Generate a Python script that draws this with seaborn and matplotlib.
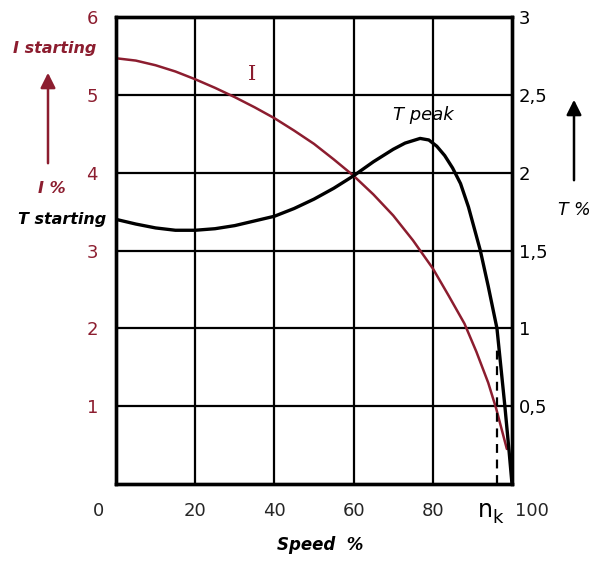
import matplotlib
matplotlib.use("Agg")
import matplotlib.pyplot as plt
import matplotlib.transforms as mtrans
import seaborn as sns
import pandas as pd

# ---- data ----
speed_I = [0, 5, 10, 15, 20, 25, 30, 35, 40, 45, 50, 55, 60, 65, 70, 75, 80, 84, 88, 91, 94, 96, 98.7]
current_I = [5.47, 5.44, 5.38, 5.30, 5.20, 5.09, 4.97, 4.84, 4.70, 4.54, 4.37, 4.17, 3.96, 3.72, 3.45,
             3.13, 2.77, 2.42, 2.06, 1.70, 1.30, 0.97, 0.45]

speed_T = [0, 5, 10, 15, 20, 25, 30, 35, 40, 45, 50, 55, 60, 65, 70, 73, 76.8, 79, 81, 83, 85, 87,
           89, 92, 94, 96.2, 98.2, 99.3, 100]
torque_T = [1.70, 1.67, 1.645, 1.63, 1.63, 1.64, 1.66, 1.69, 1.72, 1.77, 1.83, 1.90, 1.98, 2.07, 2.15,
            2.19, 2.22, 2.21, 2.17, 2.11, 2.03, 1.93, 1.78, 1.50, 1.27, 1.00, 0.50, 0.20, 0.0]

x_ticks = [0, 20, 40, 60, 80, 100]
x_ticklabels = ["0", "20", "40", "60", "80", "100"]
left_ticks = [1, 2, 3, 4, 5, 6]
left_ticklabels = ["1", "2", "3", "4", "5", "6"]
right_ticks = [0.5, 1.0, 1.5, 2.0, 2.5, 3.0]
right_ticklabels = ["0,5", "1", "1,5", "2", "2,5", "3"]
n_k = 96.2

RED = "#8c1d2f"
W, H = 594, 561

sns.set_theme(style="white")
plt.rcParams["font.family"] = ["DejaVu Sans"]

fig = plt.figure(figsize=(W / 100, H / 100), dpi=100)
ax = fig.add_axes([116 / W, 1 - 484 / H, (512 - 116) / W, (484 - 17) / H])
ax2 = ax.twinx()

ax.set_xlim(0, 100)
ax.set_ylim(0, 6)
ax2.set_ylim(0, 3)

# grid
for v in [20, 40, 60, 80]:
    ax.axvline(v, color="black", lw=1.6, zorder=1)
for v in [1, 2, 3, 4, 5]:
    ax.axhline(v, color="black", lw=1.6, zorder=1)

dfI = pd.DataFrame({"speed": speed_I, "I": current_I})
dfT = pd.DataFrame({"speed": speed_T, "T": torque_T})
sns.lineplot(data=dfI, x="speed", y="I", ax=ax, color=RED, lw=1.8, zorder=3, sort=False)
sns.lineplot(data=dfT, x="speed", y="T", ax=ax2, color="black", lw=2.4, zorder=3, sort=False)
ax2.plot([n_k, n_k], [0, 0.9], color="black", lw=1.6, ls=(0, (4, 3)))

for a in (ax, ax2):
    for s in a.spines.values():
        s.set_color("black")
        s.set_linewidth(2.4)
    a.set_xlabel("")
    a.set_ylabel("")

ax.set_xticks(x_ticks)
ax.set_xticklabels(x_ticklabels, fontsize=13)
ax.tick_params(axis="x", length=0, pad=13)
tl = ax.get_xticklabels()
tl[0].set_transform(tl[0].get_transform() + mtrans.ScaledTranslation(-18 / 100, 0, fig.dpi_scale_trans))
tl[-1].set_transform(tl[-1].get_transform() + mtrans.ScaledTranslation(20 / 100, 0, fig.dpi_scale_trans))

ax.set_yticks(left_ticks)
ax.set_yticklabels(left_ticklabels, fontsize=13, color=RED)
ax.tick_params(axis="y", length=0, pad=13)
ax2.set_yticks(right_ticks)
ax2.set_yticklabels(right_ticklabels, fontsize=13, color="black")
ax2.tick_params(axis="y", length=0, pad=5)

def fx(px):
    return px / W

def fy(py):
    return 1 - py / H

# n_k label
fig.text(fx(485), fy(510), "n", fontsize=17, ha="center", va="center", color="black")
fig.text(fx(498), fy(518), "k", fontsize=13, ha="center", va="center", color="black")

# texts
it = dict(style="italic", fontweight="bold")
fig.text(fx(55), fy(48), "I starting", color=RED, fontsize=11.5, ha="center", va="center", **it)
fig.text(fx(52), fy(188), "I %", color=RED, fontsize=11.5, ha="center", va="center", **it)
fig.text(fx(62), fy(220), "T starting", color="black", fontsize=11.5, ha="center", va="center", **it)
fig.text(fx(423), fy(115), "T peak", color="black", fontsize=13, ha="center", va="center", style="italic")
fig.text(fx(574), fy(210), "T %", color="black", fontsize=12.5, ha="center", va="center", style="italic")
fig.text(fx(320), fy(545), "Speed  %", color="black", fontsize=12, ha="center", va="center", **it)
fig.text(fx(252), fy(75), "I", color=RED, fontsize=15, ha="center", va="center", family="DejaVu Serif")

# arrows
fig.add_artist(matplotlib.patches.FancyArrowPatch(
    (fx(48), fy(166)), (fx(48), fy(70)), transform=fig.transFigure,
    arrowstyle="-|>,head_length=6,head_width=3", color=RED, lw=1.8, mutation_scale=1.5))
fig.add_artist(matplotlib.patches.FancyArrowPatch(
    (fx(574), fy(183)), (fx(574), fy(97)), transform=fig.transFigure,
    arrowstyle="-|>,head_length=6,head_width=3", color="black", lw=1.8, mutation_scale=1.5))

fig.savefig("out.png", dpi=100, facecolor="white")
